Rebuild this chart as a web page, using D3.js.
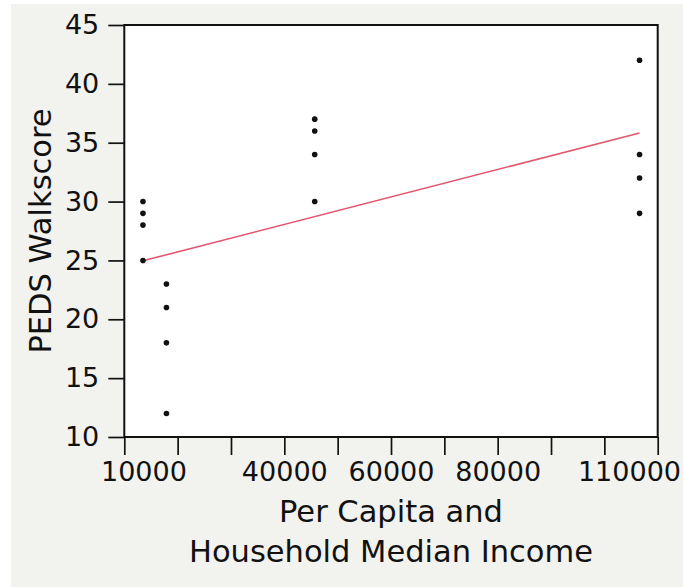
<!DOCTYPE html>
<html>
<head>
<meta charset="utf-8">
<script src="https://cdn.jsdelivr.net/npm/d3@7/dist/d3.min.js"></script>
<style>
  html, body { margin: 0; padding: 0; background: #ffffff; }
  svg { display: block; }
  text { font-family: "DejaVu Sans", sans-serif; fill: #111; }
</style>
</head>
<body>
<svg id="chart" width="683" height="587"></svg>
<script>
// ---- data ----
const incomes    = [13500, 13500, 13500, 13500, 17900, 17900, 17900, 17900,
                    45700, 45700, 45700, 45700, 106600, 106600, 106600, 106600];
const walkscores = [30, 29, 28, 25, 23, 21, 18, 12,
                    37, 36, 34, 30, 42, 34, 32, 29];
const xTickValues = [10000, 20000, 30000, 40000, 50000, 60000, 70000, 80000, 90000, 100000, 110000];
const xTickLabels = [10000, 40000, 60000, 80000, 110000];
const yTickValues = [10, 15, 20, 25, 30, 35, 40, 45];
const xTitleLines = ["Per Capita and", "Household Median Income"];
const yTitle = "PEDS Walkscore";

// ---- layout ----
const W = 683, H = 587;
const frame = { left: 124.3, right: 657.7, top: 25, bottom: 437 };

const svg = d3.select("#chart");

// panel background
svg.append("rect").attr("x", 11).attr("y", 4).attr("width", W - 11).attr("height", H - 4)
  .attr("fill", "#f2f2ee");

const x = d3.scaleLinear().domain([10000, 110000]).range([frame.left, frame.right]);
const y = d3.scaleLinear().domain([10, 45]).range([frame.bottom, frame.top]);

// plot area
svg.append("rect")
  .attr("x", frame.left).attr("y", frame.top)
  .attr("width", frame.right - frame.left).attr("height", frame.bottom - frame.top)
  .attr("fill", "#ffffff");

// y axis
const yAxis = svg.append("g")
  .attr("transform", `translate(${frame.left},0)`)
  .call(d3.axisLeft(y).tickValues(yTickValues).tickSize(16).tickPadding(9).tickFormat(d3.format("d")));
yAxis.select(".domain").remove();
yAxis.selectAll("line").attr("stroke", "#111").attr("stroke-width", 1.7);
yAxis.selectAll("text").style("font-size", "27px").attr("fill", "#111");

// x axis
const xAxis = svg.append("g")
  .attr("transform", `translate(0,${frame.bottom})`)
  .call(d3.axisBottom(x).tickValues(xTickValues).tickSize(18).tickPadding(7)
    .tickFormat(d => xTickLabels.includes(d) ? d3.format("d")(d) : ""));
xAxis.select(".domain").remove();
xAxis.selectAll("line").attr("stroke", "#111").attr("stroke-width", 1.7);
xAxis.selectAll("text").style("font-size", "27px").attr("fill", "#111");
// keep end labels inside the panel, as the original does
xAxis.selectAll(".tick").each(function() {
  const t = d3.select(this).select("text");
  if (!t.text()) return;
  const bb = t.node().getBBox();
  const tr = this.transform.baseVal.consolidate().matrix.e;
  const left = tr + bb.x, right = tr + bb.x + bb.width;
  let shift = 0;
  if (left < 101) shift = 101 - left;
  if (right > 681) shift = 681 - right;
  if (shift) t.attr("x", shift);
});

// frame border
svg.append("rect")
  .attr("x", frame.left).attr("y", frame.top)
  .attr("width", frame.right - frame.left).attr("height", frame.bottom - frame.top)
  .attr("fill", "none").attr("stroke", "#111").attr("stroke-width", 2);

// regression line (least squares on the data)
const mx = d3.mean(incomes), my = d3.mean(walkscores);
let sxy = 0, sxx = 0;
incomes.forEach((xi, i) => { sxy += (xi - mx) * (walkscores[i] - my); sxx += (xi - mx) * (xi - mx); });
const slope = sxy / sxx, intercept = my - slope * mx;
const [xmin, xmax] = d3.extent(incomes);
svg.append("line")
  .attr("x1", x(xmin)).attr("y1", y(intercept + slope * xmin))
  .attr("x2", x(xmax)).attr("y2", y(intercept + slope * xmax))
  .attr("stroke", "#e2566f").attr("stroke-width", 1.6);

// points
svg.append("g").selectAll("circle")
  .data(incomes.map((v, i) => [v, walkscores[i]]))
  .join("circle")
  .attr("cx", d => x(d[0])).attr("cy", d => y(d[1]))
  .attr("r", 2.8).attr("fill", "#111");

// titles
const cx = (frame.left + frame.right) / 2;
svg.append("text").attr("x", cx).attr("y", 521.5).attr("text-anchor", "middle")
  .style("font-size", "30.5px").text(xTitleLines[0]);
svg.append("text").attr("x", cx).attr("y", 561.5).attr("text-anchor", "middle")
  .style("font-size", "30.5px").text(xTitleLines[1]);
svg.append("text")
  .attr("transform", `translate(51,${(frame.top + frame.bottom) / 2}) rotate(-90)`)
  .attr("text-anchor", "middle").style("font-size", "30.5px").text(yTitle);
</script>
</body>
</html>
